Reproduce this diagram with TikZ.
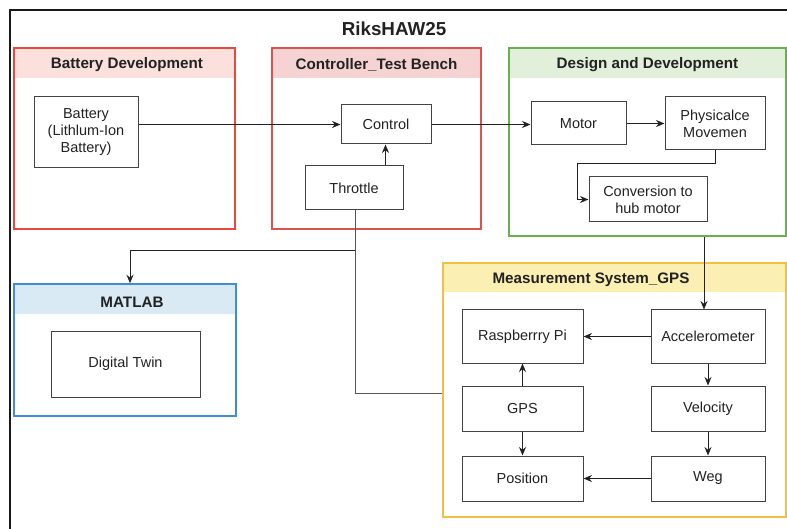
\documentclass[tikz,border=0pt]{standalone}
\usepackage{fontspec}
\setmainfont{Liberation Sans}
\usetikzlibrary{arrows.meta}
\definecolor{redb}{HTML}{E8493F}
\definecolor{redh}{HTML}{FBE0DB}
\definecolor{redb2}{HTML}{D9534F}
\definecolor{redh2}{HTML}{F5D3D2}
\definecolor{greenb}{HTML}{6AB04C}
\definecolor{greenh}{HTML}{E2EFDA}
\definecolor{blueb}{HTML}{3D8FD1}
\definecolor{blueh}{HTML}{D9EAF5}
\definecolor{yelb}{HTML}{F0C040}
\definecolor{yelh}{HTML}{FCEFB4}
\definecolor{linec}{HTML}{555555}
\definecolor{textc}{HTML}{222222}
\tikzset{
  box/.style={draw=textc!85, line width=1pt, fill=white, align=center, inner sep=2pt,
    font=\fontsize{14.5}{17}\selectfont, text=textc},
  grp/.style={line width=1.5pt, inner sep=0pt},
  gtitle/.style={font=\fontsize{15.2}{18}\selectfont\bfseries, text=textc},
  arr/.style={draw=textc, line width=1pt, -{Stealth[length=8.5pt,width=7pt]}},
  conn/.style={draw=linec, line width=1pt},
}
\begin{document}
\begin{tikzpicture}[x=1pt,y=-1pt]
\useasboundingbox (0,0) rectangle (787,529);
\fill[white] (0,0) rectangle (787,529);
% outer frame
\draw[line width=2.2pt, black!90] (10,529) -- (10,10) -- (787,10);
\node[font=\fontsize{18.8}{22}\selectfont\bfseries, text=textc] (title) at (394,29) {RiksHAW25};

% group headers
\fill[redh] (14,48) rectangle (235,78);
\fill[redh2] (272,48) rectangle (481,78);
\fill[greenh] (509,48) rectangle (786,78);
\fill[blueh] (14,284) rectangle (236,314);
\fill[yelh] (443,263) rectangle (786,292);

\node[grp, draw=redb, minimum width=221pt, minimum height=181pt] (batg) at (124.5,138.5) {};
\node[grp, draw=redb2, minimum width=209pt, minimum height=181pt] (ctrlg) at (376.5,138.5) {};
\node[grp, draw=greenb, minimum width=277pt, minimum height=188pt] (design) at (647.5,142) {};
\node[grp, draw=blueb, minimum width=222pt, minimum height=132pt] (matlab) at (125,350) {};
\node[grp, draw=yelb, minimum width=343pt, minimum height=254pt] (meas) at (614.5,390) {};

\node[gtitle] (batt) at (127,65) {Battery Development};
\node[gtitle] (ctrlt) at (376.5,65) {Controller\_Test Bench};
\node[gtitle] (designt) at (647.5,65) {Design and Development};
\node[gtitle] (matlabt) at (132,302) {MATLAB};
\node[gtitle] (meast) at (591,280) {Measurement System\_GPS};

% nodes
\node[box, minimum width=104pt, minimum height=71pt] (battery) at (86,132.5) {Battery\\(Lithlum-Ion\\Battery)};
\node[box, minimum width=90pt, minimum height=39pt] (control) at (386,124.5) {Control};
\node[box, minimum width=98pt, minimum height=44pt] (throttle) at (354,188) {Throttle};
\node[box, minimum width=95pt, minimum height=43pt] (motor) at (578.5,123.5) {Motor};
\node[box, minimum width=100pt, minimum height=53pt] (phys) at (715,123.5) {Physicalce\\Movemen};
\node[box, minimum width=118pt, minimum height=45pt] (conv) at (648,199.5) {Conversion to\\hub motor};
\node[box, minimum width=149pt, minimum height=66pt] (twin) at (125.5,364) {Digital Twin};
\node[box, minimum width=121pt, minimum height=53pt] (rasp) at (522.5,336.5) {Raspberrry Pi};
\node[box, minimum width=114pt, minimum height=53pt] (accel) at (708,336.5) {Accelerometer};
\node[box, minimum width=121pt, minimum height=45pt] (gps) at (522.5,408.5) {GPS};
\node[box, minimum width=114pt, minimum height=45pt] (vel) at (708,408.5) {Velocity};
\node[box, minimum width=121pt, minimum height=45pt] (pos) at (522.5,478.5) {Position};
\node[box, minimum width=114pt, minimum height=45pt] (weg) at (708,478.5) {Weg};

% connectors
\draw[arr] (battery.east |- control.west) -- (control.west);
\draw[arr] ([xshift=-0.5pt]control.south |- throttle.north) -- ([xshift=-0.5pt]control.south);
\draw[arr] (control.east) -- (motor.west |- control.east);
\draw[arr] (motor.east) -- (phys.west |- motor.east);
\draw[arr] (phys.south) -- ++(0,13) -| ([xshift=-11pt]conv.west) -- (conv.west);
\draw[arr] ([xshift=-4pt]accel.north |- design.south) -- ([xshift=-4pt]accel.north);
\draw[arr] (accel.west) -- (rasp.east);
\draw[arr] (gps.north) -- (rasp.south);
\draw[arr] (gps.south) -- (pos.north);
\draw[arr] (accel.south) -- (vel.north);
\draw[arr] (vel.south) -- (weg.north);
\draw[arr] (weg.west) -- (pos.east);
\coordinate (split) at ([xshift=1pt]throttle.south |- 0,251);
\draw[conn] ([xshift=1pt]throttle.south) -- (split);
\draw[arr] (split) -| ([xshift=5pt]matlab.north);
\draw[conn] (split) |- ([yshift=-3pt]meas.west);
\end{tikzpicture}
\end{document}
